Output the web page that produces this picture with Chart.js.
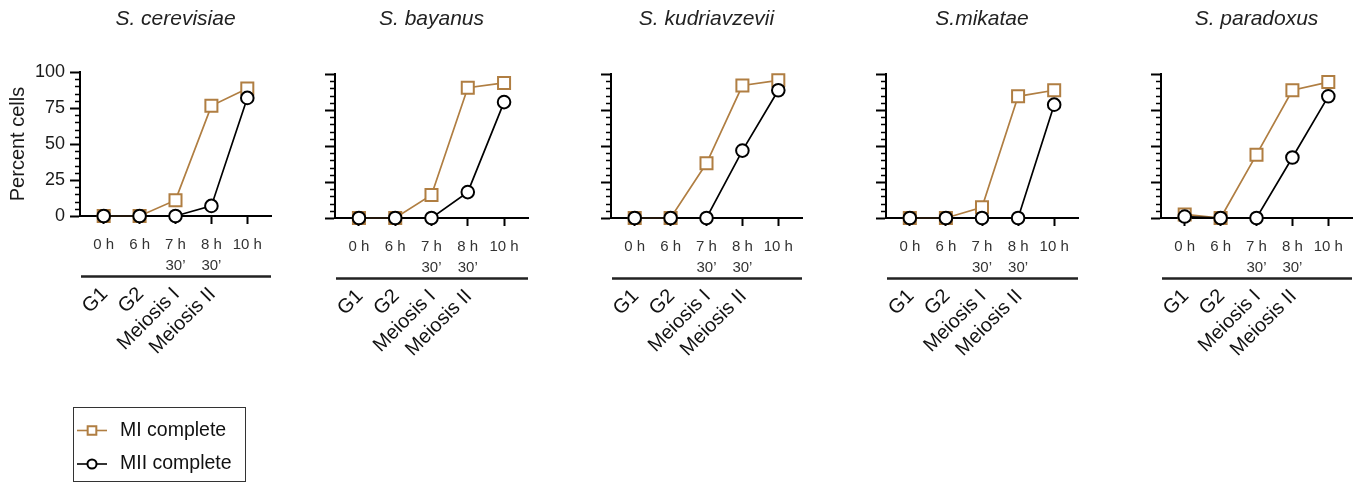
<!DOCTYPE html>
<html>
<head>
<meta charset="utf-8">
<title>Meiotic progression in Saccharomyces species</title>
<script src="https://cdn.jsdelivr.net/npm/chart.js@4.4.1/dist/chart.umd.min.js"></script>
<style>
  html, body { margin: 0; padding: 0; background: #fff; }
  body { width: 1356px; height: 487px; position: relative; overflow: hidden; }
  .panel { position: absolute; top: 0; }
</style>
</head>
<body>
<script>
// Time points sampled after transfer to sporulation medium
const timeLabels = [['0 h'], ['6 h'], ['7 h', '30\u2019'], ['8 h', '30\u2019'], ['10 h']];
// Cell-cycle stage reached at each of the first four time points
const phaseLabels = ['G1', 'G2', 'Meiosis I', 'Meiosis II'];
const speciesNames = ['S. cerevisiae', 'S. bayanus', 'S. kudriavzevii', 'S.mikatae', 'S. paradoxus'];
const seriesNames = ['MI complete', 'MII complete'];
const yTicks = [0, 25, 50, 75, 100];

// Percent of cells that completed meiosis I / meiosis II
const miCerevisiae    = [0, 0, 11, 76.5, 88.5];
const miiCerevisiae   = [0, 0, 0, 7, 82];
const miBayanus       = [0, 0, 16, 90.5, 93.8];
const miiBayanus      = [0, 0, 0, 18, 80.5];
const miKudriavzevii  = [0, 0, 38, 92, 95.6];
const miiKudriavzevii = [0, 0, 0, 46.8, 88.7];
const miMikatae       = [0, 0, 7.5, 84.5, 88.7];
const miiMikatae      = [0, 0, 0, 0, 78.7];
const miParadoxus     = [2.5, 0, 44, 88.7, 94.4];
const miiParadoxus    = [1, 0, 0, 42, 84.5];

const miSeries  = [miCerevisiae, miBayanus, miKudriavzevii, miMikatae, miParadoxus];
const miiSeries = [miiCerevisiae, miiBayanus, miiKudriavzevii, miiMikatae, miiParadoxus];

// Plot-area boxes (page pixels) for the five panels
const frames = [
  { left: 80,   right: 271,  top: 72, bottom: 216 },
  { left: 335,  right: 528,  top: 74, bottom: 218 },
  { left: 611,  right: 802,  top: 74, bottom: 218 },
  { left: 886,  right: 1078, top: 74, bottom: 218 },
  { left: 1161, right: 1352, top: 74, bottom: 218 }
];
const AXIS_GUTTER = 80;   // room kept left of every plot area
const RIGHT_GUTTER = 12;  // room right of the plot area (covers marker overflow)
const X_AXIS_BAND = 100;  // height reserved under every plot area
const PAGE_H = 487;

const FONT = '"Liberation Sans", Arial, Helvetica, sans-serif';
const MI_COLOR = '#b07e42';
const MII_COLOR = '#000000';

Chart.defaults.font.family = FONT;

// Species name above each panel
const speciesTitle = {
  id: 'speciesTitle',
  afterDraw(chart) {
    const { ctx, chartArea } = chart;
    ctx.save();
    ctx.font = 'italic 21px ' + FONT;
    ctx.fillStyle = '#222';
    ctx.textAlign = 'center';
    ctx.textBaseline = 'middle';
    ctx.fillText(chart.$species, (chartArea.left + chartArea.right) / 2, 19);
    ctx.restore();
  }
};

// Short minor ticks every 5 % on the y axis
const minorTicks = {
  id: 'minorTicks',
  afterDraw(chart) {
    const { ctx, chartArea, scales: { y } } = chart;
    ctx.save();
    ctx.strokeStyle = '#000';
    ctx.lineWidth = 1.6;
    ctx.beginPath();
    for (let v = 5; v < 100; v += 5) {
      if (v % 25 === 0) continue;
      const py = Math.round(y.getPixelForValue(v)) + 0.5;
      ctx.moveTo(chartArea.left - 5, py);
      ctx.lineTo(chartArea.left + 1, py);
    }
    ctx.stroke();
    ctx.restore();
  }
};

// Bar under the time labels and the stage names under it
const stageBand = {
  id: 'stageBand',
  afterDraw(chart) {
    const { ctx, chartArea, scales: { x } } = chart;
    const lineY = chartArea.bottom + 60.5;
    ctx.save();
    ctx.strokeStyle = '#222';
    ctx.lineWidth = 2.5;
    ctx.beginPath();
    ctx.moveTo(chartArea.left + 1, lineY);
    ctx.lineTo(chartArea.right, lineY);
    ctx.stroke();
    ctx.font = '20px ' + FONT;
    ctx.fillStyle = '#111';
    ctx.textAlign = 'right';
    ctx.textBaseline = 'alphabetic';
    phaseLabels.forEach((label, i) => {
      const px = x.getPixelForValue(i);
      ctx.save();
      ctx.translate(px + 5, chartArea.bottom + 79);
      ctx.rotate(-Math.PI / 4);
      ctx.fillText(label, 0, 0);
      ctx.restore();
    });
    ctx.restore();
  }
};

// Boxed key for the two series, drawn with the datasets' own styles
const seriesKey = {
  id: 'seriesKey',
  afterDraw(chart) {
    const { ctx } = chart;
    const rows = [430.5, 464];
    ctx.save();
    ctx.strokeStyle = '#333';
    ctx.lineWidth = 1;
    ctx.strokeRect(73.5, 407.5, 172, 74);
    chart.data.datasets.forEach((ds, i) => {
      const yy = rows[i];
      ctx.strokeStyle = ds.borderColor;
      ctx.lineWidth = 1.6;
      ctx.beginPath();
      ctx.moveTo(77, yy);
      ctx.lineTo(107, yy);
      ctx.stroke();
      ctx.fillStyle = '#fff';
      ctx.lineWidth = 2;
      Chart.helpers.drawPoint(ctx, {
        pointStyle: ds.pointStyle,
        radius: ds.pointRadius * 0.72,
        borderWidth: 2,
        rotation: 0
      }, 92, yy);
      ctx.fillStyle = '#111';
      ctx.font = '19.5px ' + FONT;
      ctx.textAlign = 'left';
      ctx.textBaseline = 'middle';
      ctx.fillText(ds.label, 120, yy);
    });
    ctx.restore();
  }
};

frames.forEach((f, p) => {
  const width = f.right - f.left + AXIS_GUTTER + RIGHT_GUTTER;
  const holder = document.createElement('div');
  holder.className = 'panel';
  holder.style.left = (f.left - AXIS_GUTTER) + 'px';
  holder.style.width = width + 'px';
  holder.style.height = PAGE_H + 'px';
  const canvas = document.createElement('canvas');
  canvas.width = width;
  canvas.height = PAGE_H;
  holder.appendChild(canvas);
  document.body.appendChild(holder);

  const first = p === 0;
  const plugins = [speciesTitle, minorTicks, stageBand];
  if (first) plugins.push(seriesKey);

  const chart = new Chart(canvas, {
    type: 'line',
    data: {
      datasets: [
        {
          label: seriesNames[0],
          data: miSeries[p].map((v, i) => ({ x: i, y: v })),
          borderColor: MI_COLOR,
          backgroundColor: '#fff',
          borderWidth: 1.7,
          pointStyle: 'rect',
          pointRadius: 8.5,
          pointBorderWidth: 2,
          pointBackgroundColor: '#fff',
          pointBorderColor: MI_COLOR,
          tension: 0,
          clip: false,
          order: 2
        },
        {
          label: seriesNames[1],
          data: miiSeries[p].map((v, i) => ({ x: i, y: v })),
          borderColor: MII_COLOR,
          backgroundColor: '#fff',
          borderWidth: 1.7,
          pointStyle: 'circle',
          pointRadius: 6.3,
          pointBorderWidth: 2,
          pointBackgroundColor: '#fff',
          pointBorderColor: MII_COLOR,
          tension: 0,
          clip: false,
          order: 1
        }
      ]
    },
    options: {
      responsive: false,
      animation: false,
      devicePixelRatio: 1,
      events: [],
      layout: {
        padding: { left: 0, right: RIGHT_GUTTER, top: f.top, bottom: PAGE_H - f.bottom - X_AXIS_BAND }
      },
      plugins: { legend: { display: false }, tooltip: { enabled: false }, title: { display: false } },
      scales: {
        x: {
          type: 'linear',
          min: -0.66,
          max: 4.66,
          z: 1,
          afterBuildTicks(s) { s.ticks = timeLabels.map((_, i) => ({ value: i })); },
          afterFit(s) {
            s.height = X_AXIS_BAND;
            s.paddingLeft = 0;
            s.paddingRight = 0;
          },
          ticks: {
            autoSkip: false,
            maxRotation: 0,
            padding: 10,
            color: '#333',
            font: { size: 15, lineHeight: 1.4 },
            callback: (v) => timeLabels[v]
          },
          grid: { drawOnChartArea: false, drawTicks: true, tickLength: 8, tickWidth: 2, tickColor: '#000' },
          border: { display: true, color: '#000', width: 2 }
        },
        y: {
          type: 'linear',
          min: 0,
          max: 100,
          afterBuildTicks(s) { s.ticks = yTicks.map((v) => ({ value: v })); },
          afterFit(s) {
            s.width = AXIS_GUTTER;
            s.paddingTop = 0;
            s.paddingBottom = 0;
          },
          ticks: {
            padding: 5,
            color: '#1a1a1a',
            font: { size: 18 },
            callback: (v) => (first ? String(v) : '')
          },
          grid: { drawOnChartArea: false, drawTicks: true, tickLength: 10, tickWidth: 2, tickColor: '#000' },
          border: { display: true, color: '#000', width: 2 },
          title: {
            display: first,
            text: 'Percent cells',
            color: '#1a1a1a',
            font: { size: 20 },
            padding: { top: 6, bottom: 0 }
          }
        }
      }
    },
    plugins
  });
  chart.$species = speciesNames[p];
  chart.draw();
});
</script>
</body>
</html>
